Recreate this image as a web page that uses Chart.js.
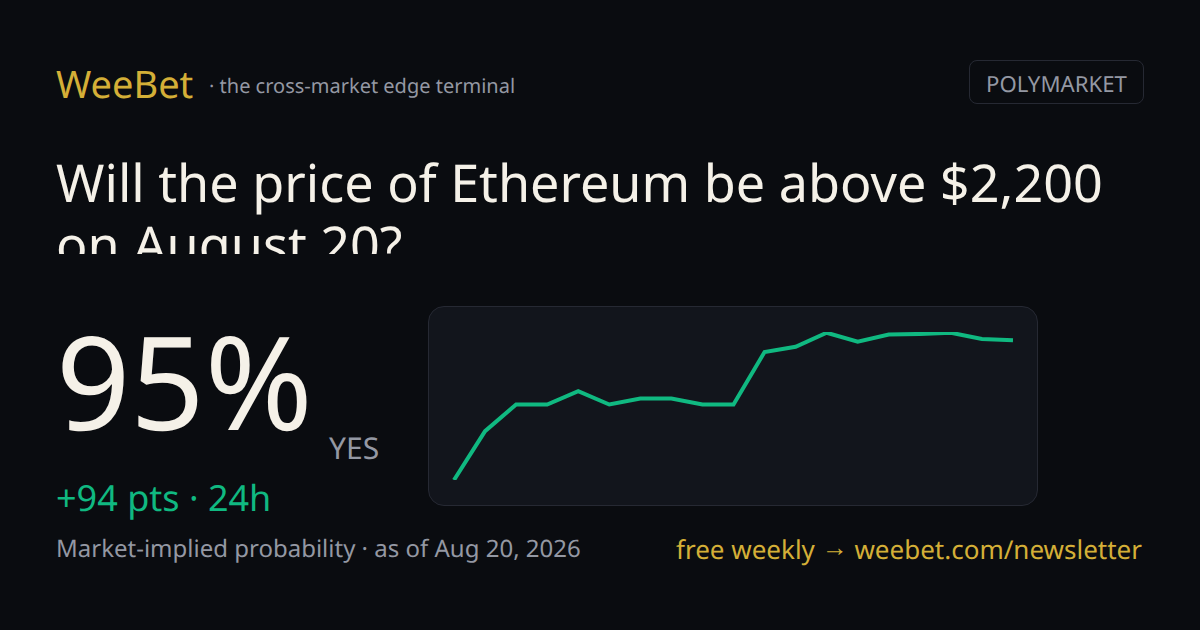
<!DOCTYPE html>
<html>
<head>
<meta charset="utf-8">
<script src="https://cdn.jsdelivr.net/npm/chart.js@4"></script>
<style>
  html, body { margin: 0; padding: 0; background: #0a0c10; }
  body { position: relative; width: 1200px; height: 630px; overflow: hidden; font-family: "Noto Sans", "Liberation Sans", sans-serif; text-rendering: geometricPrecision; }
  .t { position: absolute; white-space: nowrap; line-height: 1; }
  #brand { left: 56px; top: 65px; font-size: 38px; color: #d4af37; }
  #tag { left: 209px; top: 76px; font-size: 20px; color: #9498a3; }
  #venue { position: absolute; left: 969px; top: 60px; width: 173px; height: 42px; border: 1px solid #262933; border-radius: 8px;
    color: #9498a3; font-size: 22.2px; line-height: 45px; text-align: center; }
  #title { position: absolute; left: 56px; top: 152px; width: 1088px; height: 102px; overflow: hidden;
    font-size: 52.1px; line-height: 62px; color: #f5f1e8; }
  #pct { left: 56px; top: 316px; font-size: 130px; color: #f5f1e8; }
  #side { left: 329px; top: 433px; font-size: 30px; color: #9498a3; }
  #delta { left: 56px; top: 480px; font-size: 36px; color: #10b981; }
  #asof { left: 56px; top: 537px; font-size: 24px; color: #9498a3; }
  #cta { left: 676px; top: 536px; font-size: 26px; color: #d4af37; }
  #cta span { position: relative; top: -3px; }
  #panel { position: absolute; left: 428px; top: 306px; width: 608px; height: 198px; background: #12151c;
    border: 1px solid #262933; border-radius: 16px; }
  #chart { position: absolute; left: -1px; top: -1px; }
</style>
</head>
<body>
<div class="t" id="brand">WeeBet</div>
<div class="t" id="tag">· the cross-market edge terminal</div>
<div id="venue">POLYMARKET</div>
<div id="title">Will the price of Ethereum be above $2,200 on August 20?</div>
<div class="t" id="pct">95%</div>
<div class="t" id="side">YES</div>
<div class="t" id="delta">+94 pts · 24h</div>
<div class="t" id="asof">Market-implied probability · as of Aug 20, 2026</div>
<div class="t" id="cta">free weekly <span>→</span> weebet.com/newsletter</div>
<div id="panel"><canvas id="chart" width="610" height="200"></canvas></div>
<script>
// YES price over the last 24h
const labels = ['1','2','3','4','5','6','7','8','9','10','11','12','13','14','15','16','17','18','19'];
const yesPrice = [0, 33, 51, 51, 60, 51, 55, 55, 51, 51, 86.5, 90, 99.5, 93.5, 98.3, 98.7, 99.5, 95.3, 94.5];

new Chart(document.getElementById('chart').getContext('2d'), {
    type: 'line',
    data: {
        labels: labels,
        datasets: [
            {
                data: yesPrice,
                borderColor: '#10b981',
                borderWidth: 4,
                pointRadius: 0,
                fill: false,
                tension: 0
            }
        ]
    },
    options: {
        responsive: false,
        animation: false,
        devicePixelRatio: 1,
        layout: { padding: { left: 26, right: 25, top: 26, bottom: 26 } },
        plugins: { legend: { display: false }, tooltip: { enabled: false } },
        scales: {
            x: { display: false, offset: false },
            y: { display: false, min: 0, max: 100 }
        }
    }
});
</script>
</body>
</html>
